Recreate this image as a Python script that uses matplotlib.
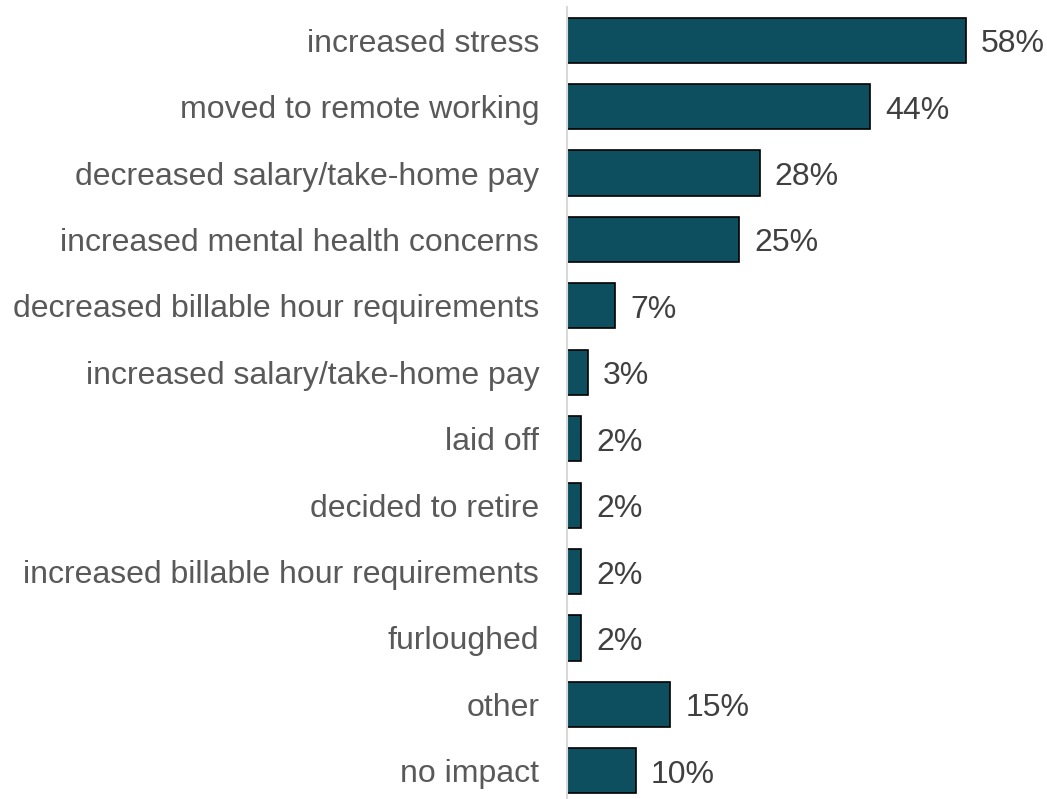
import matplotlib.pyplot as plt
import numpy as np

categories = ['increased stress', 'moved to remote working', 'decreased salary/take-home pay',
              'increased mental health concerns', 'decreased billable hour requirements',
              'increased salary/take-home pay', 'laid off', 'decided to retire',
              'increased billable hour requirements', 'furloughed', 'other', 'no impact']
values = [58, 44, 28, 25, 7, 3, 2, 2, 2, 2, 15, 10]

plt.rcParams['font.family'] = ['Liberation Sans', 'DejaVu Sans']

fig = plt.figure(figsize=(10.47, 7.99), dpi=100)
ax = fig.add_axes([567 / 1047, -5 / 799, 480 / 1047, 797 / 799])

ind = np.arange(len(categories))
ax.barh(ind, values, height=0.68, color='#0d4f5f', edgecolor='black', linewidth=1.2)
for i, v in zip(ind, values):
    ax.text(v + 2.2, i + 0.06, '%d%%' % v, va='center', ha='left', fontsize=23, color='#404040')

ax.set_ylim(len(categories) - 0.5, -0.5)
ax.set_xlim(0, 480 / 6.88)
ax.set_yticks(ind)
ax.set_yticklabels(categories, fontsize=23, color='#595959')
ax.tick_params(axis='y', length=0, pad=20)
ax.set_xticks([])
for s in ['top', 'right', 'bottom']:
    ax.spines[s].set_visible(False)
ax.spines['left'].set_color('#d9d9d9')
ax.spines['left'].set_linewidth(1.5)

fig.savefig('out.png', dpi=100)
